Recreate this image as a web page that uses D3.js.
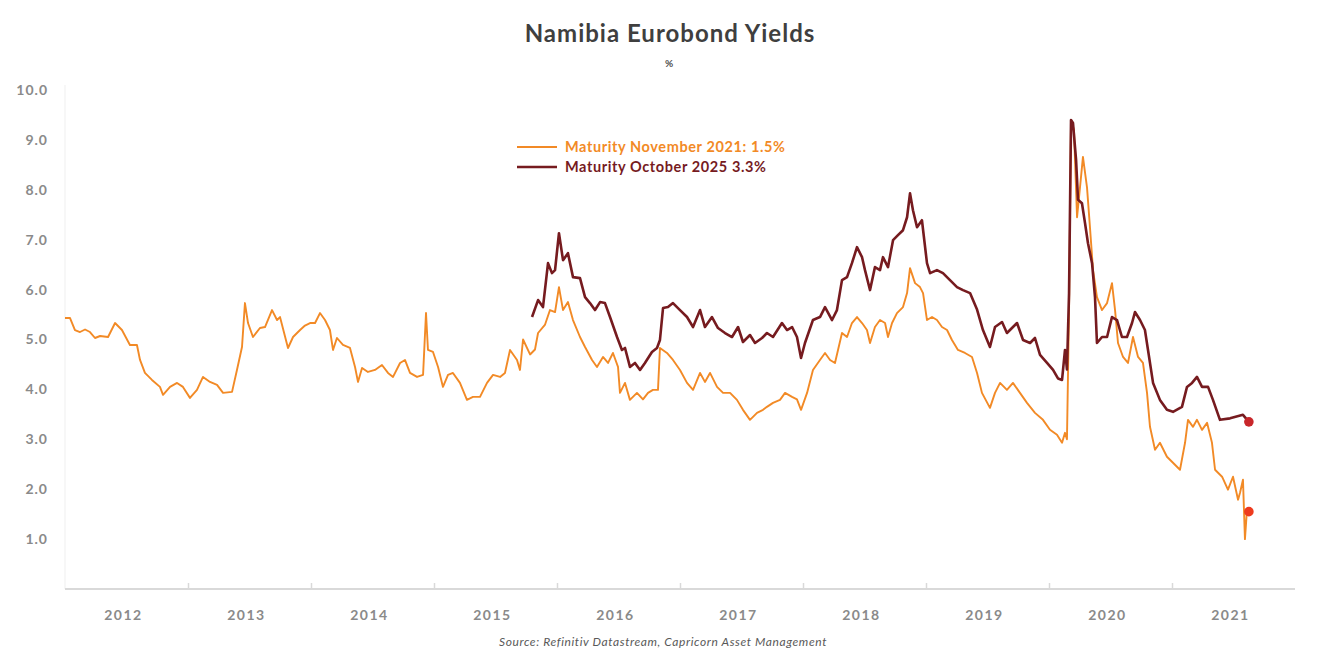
<!DOCTYPE html>
<html>
<head>
<meta charset="utf-8">
<script src="https://cdn.jsdelivr.net/npm/d3@7"></script>
<style>
  html, body { margin: 0; padding: 0; background: #ffffff; }
  svg { display: block; }
</style>
</head>
<body>
<svg id="chart" width="1329" height="652"></svg>
<script>
// ---------------- DATA ----------------
const chartTitle = "Namibia Eurobond Yields";
const chartUnit = "%";
const sourceText = "Source: Refinitiv Datastream, Capricorn Asset Management";
const seriesNames = ["Maturity November 2021: 1.5%", "Maturity October 2025 3.3%"];
const yTickValues = [1, 2, 3, 4, 5, 6, 7, 8, 9, 10];
const xYearLabels = [2012, 2013, 2014, 2015, 2016, 2017, 2018, 2019, 2020, 2021];

// Maturity November 2021 (dates as decimal years)
const novDates = [
  2012.000, 2012.041, 2012.081, 2012.122, 2012.163, 2012.203, 2012.244, 2012.285, 2012.350, 2012.407,
  2012.463, 2012.528, 2012.585, 2012.610, 2012.650, 2012.707, 2012.772, 2012.797, 2012.854, 2012.911,
  2012.959, 2013.016, 2013.073, 2013.122, 2013.179, 2013.236, 2013.285, 2013.358, 2013.398, 2013.439,
  2013.463, 2013.488, 2013.528, 2013.585, 2013.626, 2013.683, 2013.724, 2013.748, 2013.813, 2013.854,
  2013.911, 2013.951, 2013.992, 2014.033, 2014.073, 2014.114, 2014.154, 2014.179, 2014.211, 2014.260,
  2014.317, 2014.358, 2014.382, 2014.415, 2014.463, 2014.520, 2014.577, 2014.626, 2014.667, 2014.724,
  2014.764, 2014.805, 2014.862, 2014.911, 2014.935, 2014.951, 2014.992, 2015.033, 2015.073, 2015.114,
  2015.154, 2015.211, 2015.268, 2015.317, 2015.374, 2015.431, 2015.480, 2015.537, 2015.577, 2015.618,
  2015.675, 2015.699, 2015.724, 2015.781, 2015.821, 2015.846, 2015.903, 2015.943, 2015.984, 2016.016,
  2016.049, 2016.089, 2016.130, 2016.187, 2016.228, 2016.285, 2016.325, 2016.374, 2016.415, 2016.455,
  2016.496, 2016.512, 2016.553, 2016.593, 2016.650, 2016.699, 2016.740, 2016.780, 2016.821, 2016.837,
  2016.894, 2016.943, 2017.000, 2017.057, 2017.106, 2017.163, 2017.203, 2017.244, 2017.301, 2017.350,
  2017.407, 2017.463, 2017.512, 2017.569, 2017.626, 2017.675, 2017.707, 2017.756, 2017.813, 2017.854,
  2017.911, 2017.951, 2017.984, 2018.033, 2018.081, 2018.138, 2018.179, 2018.220, 2018.260, 2018.317,
  2018.358, 2018.398, 2018.439, 2018.480, 2018.520, 2018.545, 2018.585, 2018.626, 2018.667, 2018.691,
  2018.724, 2018.764, 2018.813, 2018.846, 2018.870, 2018.911, 2018.951, 2018.976, 2019.008, 2019.049,
  2019.089, 2019.130, 2019.171, 2019.211, 2019.260, 2019.317, 2019.374, 2019.415, 2019.455, 2019.520,
  2019.561, 2019.602, 2019.658, 2019.707, 2019.764, 2019.821, 2019.886, 2019.951, 2020.008, 2020.065,
  2020.106, 2020.130, 2020.146, 2020.163, 2020.179, 2020.203, 2020.228, 2020.252, 2020.276, 2020.309,
  2020.333, 2020.358, 2020.390, 2020.431, 2020.472, 2020.512, 2020.537, 2020.561, 2020.602, 2020.642,
  2020.683, 2020.724, 2020.764, 2020.797, 2020.821, 2020.862, 2020.902, 2020.959, 2021.008, 2021.065,
  2021.106, 2021.130, 2021.171, 2021.203, 2021.244, 2021.285, 2021.325, 2021.350, 2021.407, 2021.455,
  2021.496, 2021.537, 2021.553, 2021.577, 2021.593, 2021.610, 2021.625
];
const novYields = [
  5.43, 5.43, 5.19, 5.15, 5.20, 5.15, 5.03, 5.07, 5.05, 5.33,
  5.19, 4.89, 4.89, 4.59, 4.33, 4.19, 4.05, 3.89, 4.05, 4.13,
  4.05, 3.83, 3.99, 4.25, 4.15, 4.09, 3.93, 3.95, 4.39, 4.85,
  5.73, 5.33, 5.05, 5.23, 5.25, 5.59, 5.39, 5.45, 4.83, 5.05,
  5.19, 5.28, 5.33, 5.33, 5.53, 5.39, 5.19, 4.79, 5.03, 4.89,
  4.83, 4.45, 4.15, 4.43, 4.35, 4.39, 4.49, 4.33, 4.25, 4.53,
  4.59, 4.33, 4.25, 4.29, 5.53, 4.79, 4.75, 4.45, 4.05, 4.29,
  4.33, 4.13, 3.79, 3.85, 3.85, 4.13, 4.29, 4.25, 4.33, 4.79,
  4.59, 4.39, 5.00, 4.70, 4.80, 5.13, 5.30, 5.59, 5.55, 6.05,
  5.59, 5.75, 5.39, 5.05, 4.85, 4.59, 4.45, 4.65, 4.53, 4.73,
  4.45, 3.93, 4.13, 3.79, 3.93, 3.80, 3.93, 3.99, 3.99, 4.83,
  4.73, 4.59, 4.39, 4.13, 3.99, 4.33, 4.15, 4.33, 4.05, 3.93,
  3.93, 3.79, 3.59, 3.39, 3.53, 3.59, 3.65, 3.73, 3.79, 3.93,
  3.85, 3.80, 3.59, 3.93, 4.39, 4.59, 4.73, 4.59, 4.53, 5.13,
  5.05, 5.33, 5.45, 5.33, 5.19, 4.93, 5.25, 5.39, 5.33, 5.05,
  5.33, 5.53, 5.65, 5.93, 6.43, 6.13, 6.05, 5.93, 5.39, 5.45,
  5.39, 5.25, 5.19, 4.99, 4.79, 4.73, 4.65, 4.33, 3.93, 3.63,
  3.93, 4.13, 3.99, 4.13, 3.93, 3.73, 3.53, 3.39, 3.19, 3.09,
  2.93, 3.13, 3.00, 5.60, 9.40, 9.20, 7.45, 8.05, 8.66, 8.05,
  7.25, 6.39, 5.85, 5.59, 5.73, 6.13, 5.59, 4.93, 4.65, 4.53,
  5.05, 4.65, 4.53, 3.93, 3.25, 2.79, 2.93, 2.65, 2.53, 2.39,
  2.93, 3.39, 3.25, 3.39, 3.19, 3.33, 2.93, 2.39, 2.25, 1.99,
  2.25, 1.79, 1.93, 2.19, 1.00, 1.60, 1.55
];

// Maturity October 2025 (dates as decimal years)
const octDates = [
  2015.797, 2015.846, 2015.886, 2015.927, 2015.959, 2015.984, 2016.016, 2016.049, 2016.089, 2016.130,
  2016.187, 2016.228, 2016.268, 2016.309, 2016.350, 2016.390, 2016.431, 2016.488, 2016.528, 2016.553,
  2016.593, 2016.634, 2016.675, 2016.715, 2016.772, 2016.813, 2016.837, 2016.862, 2016.902, 2016.943,
  2017.000, 2017.057, 2017.106, 2017.163, 2017.203, 2017.260, 2017.309, 2017.366, 2017.423, 2017.472,
  2017.512, 2017.569, 2017.610, 2017.667, 2017.707, 2017.756, 2017.829, 2017.870, 2017.911, 2017.951,
  2017.984, 2018.016, 2018.081, 2018.138, 2018.179, 2018.236, 2018.276, 2018.317, 2018.358, 2018.398,
  2018.439, 2018.480, 2018.504, 2018.545, 2018.585, 2018.626, 2018.650, 2018.691, 2018.732, 2018.772,
  2018.813, 2018.846, 2018.870, 2018.894, 2018.927, 2018.967, 2019.008, 2019.033, 2019.089, 2019.138,
  2019.195, 2019.252, 2019.301, 2019.358, 2019.415, 2019.463, 2019.520, 2019.561, 2019.618, 2019.658,
  2019.740, 2019.789, 2019.846, 2019.886, 2019.927, 2019.984, 2020.033, 2020.073, 2020.106, 2020.130,
  2020.146, 2020.163, 2020.179, 2020.195, 2020.220, 2020.236, 2020.268, 2020.293, 2020.317, 2020.350,
  2020.374, 2020.390, 2020.431, 2020.472, 2020.512, 2020.553, 2020.593, 2020.634, 2020.675, 2020.699,
  2020.740, 2020.780, 2020.805, 2020.846, 2020.902, 2020.959, 2021.008, 2021.081, 2021.122, 2021.163,
  2021.203, 2021.244, 2021.293, 2021.333, 2021.390, 2021.472, 2021.577, 2021.625
];
const octYields = [
  5.45, 5.79, 5.65, 6.53, 6.33, 6.39, 7.13, 6.59, 6.73, 6.25,
  6.23, 5.85, 5.73, 5.59, 5.75, 5.73, 5.45, 5.05, 4.79, 4.83,
  4.45, 4.53, 4.39, 4.53, 4.75, 4.83, 4.99, 5.63, 5.65, 5.73,
  5.59, 5.45, 5.25, 5.59, 5.25, 5.45, 5.23, 5.13, 5.05, 5.25,
  4.95, 5.09, 4.93, 5.03, 5.13, 5.05, 5.33, 5.19, 5.25, 5.05,
  4.63, 4.93, 5.39, 5.45, 5.65, 5.39, 5.59, 6.19, 6.25, 6.53,
  6.85, 6.65, 6.39, 5.99, 6.45, 6.39, 6.65, 6.45, 6.99, 7.09,
  7.19, 7.45, 7.93, 7.59, 7.25, 7.39, 6.53, 6.33, 6.39, 6.33,
  6.19, 6.05, 5.99, 5.93, 5.60, 5.19, 4.85, 5.25, 5.35, 5.13,
  5.33, 4.99, 4.93, 5.03, 4.69, 4.53, 4.39, 4.22, 4.19, 4.79,
  4.40, 5.93, 9.40, 9.34, 8.60, 7.80, 7.73, 7.33, 6.93, 6.53,
  5.85, 4.93, 5.05, 5.05, 5.45, 5.39, 5.05, 5.05, 5.33, 5.55,
  5.39, 5.19, 4.79, 4.13, 3.79, 3.59, 3.55, 3.65, 4.05, 4.13,
  4.25, 4.05, 4.05, 3.79, 3.39, 3.42, 3.49, 3.35
];

// ---------------- CHART ----------------
const svg = d3.select("#chart");
const plot = { left: 65, right: 1295, top: 90, bottom: 589 };

const colors = { nov: "#F28A26", oct: "#761B1F", novDot: "#EE3B1E", octDot: "#C8262A",
                 axis: "#d9d9d9", tick: "#8a8a8a", title: "#3f3f3f" };
const fontFamily = "Lato, 'Open Sans', 'DejaVu Sans', sans-serif";

const x = d3.scaleLinear().domain([2012, 2022]).range([plot.left, plot.right]);
const y = d3.scaleLinear().domain([0, 10]).range([plot.bottom, plot.top]);

// Title
svg.append("text")
  .attr("x", 670).attr("y", 42)
  .attr("text-anchor", "middle")
  .attr("font-family", fontFamily)
  .attr("font-weight", "bold")
  .attr("font-size", 24)
  .attr("letter-spacing", 1)
  .attr("fill", colors.title)
  .text(chartTitle);
svg.append("text")
  .attr("x", 669).attr("y", 67)
  .attr("text-anchor", "middle")
  .attr("font-family", fontFamily)
  .attr("font-weight", "bold")
  .attr("font-size", 10)
  .attr("fill", "#505050")
  .text(chartUnit);

// faint y axis line
svg.append("line")
  .attr("x1", plot.left).attr("x2", plot.left)
  .attr("y1", plot.top - 5).attr("y2", plot.bottom)
  .attr("stroke", "#efefef").attr("stroke-width", 1);

// Y axis (labels only)
const yAxis = d3.axisLeft(y).tickValues(yTickValues).tickFormat(d3.format(".1f")).tickSize(0).tickPadding(0);
const gy = svg.append("g").attr("transform", `translate(${plot.left - 17},0)`).call(yAxis);
gy.select(".domain").remove();
gy.selectAll("text")
  .attr("font-family", fontFamily)
  .attr("font-weight", "bold")
  .attr("font-size", 14)
  .attr("letter-spacing", 1)
  .attr("fill", colors.tick);

// X axis: year-boundary ticks, labels centred in each year
const xAxis = d3.axisBottom(x)
  .tickValues(d3.range(2013, 2022))
  .tickSize(-6)
  .tickFormat("");
const gx = svg.append("g").attr("transform", `translate(0,${plot.bottom})`).call(xAxis);
gx.select(".domain").attr("stroke", colors.axis).attr("stroke-width", 2)
  .attr("d", `M${plot.left},0H${plot.right}`);
gx.selectAll(".tick line").attr("stroke", colors.axis).attr("stroke-width", 1.5);

svg.append("g").selectAll("text")
  .data(xYearLabels)
  .join("text")
  .attr("x", d => x(d + 0.5) - 3)
  .attr("y", 620)
  .attr("text-anchor", "middle")
  .attr("font-family", fontFamily)
  .attr("font-weight", "bold")
  .attr("font-size", 14)
  .attr("letter-spacing", 1.5)
  .attr("fill", colors.tick)
  .text(d => d);

// Lines
const novData = novDates.map((d, i) => ({ t: d, v: novYields[i] }));
const octData = octDates.map((d, i) => ({ t: d, v: octYields[i] }));
const line = d3.line().x(d => x(d.t)).y(d => y(d.v));

svg.append("path").datum(novData)
  .attr("d", line).attr("fill", "none")
  .attr("stroke", colors.nov).attr("stroke-width", 1.9).attr("stroke-linejoin", "round");
svg.append("path").datum(octData)
  .attr("d", line).attr("fill", "none")
  .attr("stroke", colors.oct).attr("stroke-width", 2.6).attr("stroke-linejoin", "round");

// End markers
const novLast = novData[novData.length - 1];
const octLast = octData[octData.length - 1];
svg.append("circle").attr("cx", x(octLast.t)).attr("cy", y(octLast.v)).attr("r", 4.8).attr("fill", colors.octDot);
svg.append("circle").attr("cx", x(novLast.t)).attr("cy", y(novLast.v)).attr("r", 4.8).attr("fill", colors.novDot);

// Legend
const legend = svg.append("g");
const legendItems = [
  { name: seriesNames[0], color: colors.nov, w: 1.8, y: 147 },
  { name: seriesNames[1], color: colors.oct, w: 2.6, y: 167 }
];
legendItems.forEach(it => {
  legend.append("line").attr("x1", 517).attr("x2", 557).attr("y1", it.y).attr("y2", it.y)
    .attr("stroke", it.color).attr("stroke-width", it.w);
  legend.append("text").attr("x", 565).attr("y", it.y + 5)
    .attr("font-family", fontFamily).attr("font-weight", "bold").attr("font-size", 14.5)
    .attr("letter-spacing", 0.6)
    .attr("fill", it.color).text(it.name);
});

// Source
svg.append("text")
  .attr("x", 663).attr("y", 646)
  .attr("text-anchor", "middle")
  .attr("font-family", fontFamily)
  .attr("font-style", "italic")
  .attr("font-size", 12)
  .attr("letter-spacing", 0.6)
  .attr("fill", "#595959")
  .text(sourceText);
</script>
</body>
</html>
